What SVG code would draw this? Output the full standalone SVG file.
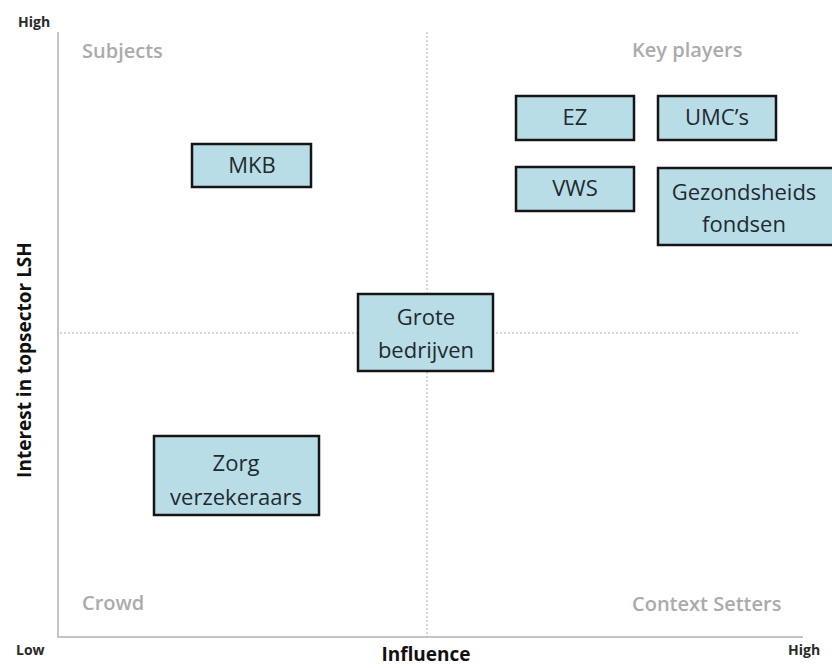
<svg xmlns="http://www.w3.org/2000/svg" width="832" height="668" viewBox="0 0 832 668">
<style>
.box{fill:#b9dde7;stroke:#151515;stroke-width:2.5}
.bt{font-family:"Open Sans","Liberation Sans",sans-serif;font-size:22px;fill:#1e2a30;text-anchor:middle}
.q{font-family:"Open Sans","Liberation Sans",sans-serif;font-size:20px;fill:#ababab;font-weight:600}
.ax{font-family:"Open Sans","Liberation Sans",sans-serif;font-size:14px;fill:#2a2a2a;font-weight:700}
.lbl{font-family:"Open Sans","Liberation Sans",sans-serif;font-size:19px;fill:#111;font-weight:700}
</style>
<rect width="832" height="668" fill="#fff"/>
<g id="axes">
<line x1="58" y1="32" x2="58" y2="638" stroke="#c4c4c4" stroke-width="2"/>
<line x1="57" y1="637" x2="803" y2="637" stroke="#c4c4c4" stroke-width="2"/>
<line x1="427" y1="32" x2="427" y2="637" stroke="#b0b0b0" stroke-width="1" stroke-dasharray="2,2"/>
<line x1="60" y1="333" x2="800" y2="333" stroke="#b0b0b0" stroke-width="1" stroke-dasharray="2,2"/>
</g>
<g id="labels">
<text class="ax" x="18" y="27">High</text>
<text class="ax" x="16" y="655">Low</text>
<text class="ax" x="788" y="655">High</text>
<text class="lbl" x="426" y="661" text-anchor="middle">Influence</text>
<text class="lbl" font-size="22" transform="translate(31,360) rotate(-90)" text-anchor="middle">Interest in topsector LSH</text>
<text class="q" x="82" y="58">Subjects</text>
<text class="q" x="632" y="57">Key players</text>
<text class="q" x="82" y="610">Crowd</text>
<text class="q" x="632" y="611">Context Setters</text>
</g>
<g id="mkb"><rect class="box" x="192" y="144" width="119" height="43"/><text class="bt" x="252" y="173">MKB</text></g>
<g id="grote"><rect class="box" x="358" y="294" width="135" height="77"/><text class="bt" x="426" y="325">Grote</text><text class="bt" x="426" y="358">bedrijven</text></g>
<g id="zorg"><rect class="box" x="154" y="436" width="165" height="79"/><text class="bt" x="236" y="471">Zorg</text><text class="bt" x="236" y="505">verzekeraars</text></g>
<g id="ez"><rect class="box" x="516" y="96" width="118" height="44"/><text class="bt" x="575" y="125">EZ</text></g>
<g id="umc"><rect class="box" x="658" y="96" width="118" height="44"/><text class="bt" x="717" y="125">UMC’s</text></g>
<g id="vws"><rect class="box" x="516" y="167" width="118" height="44"/><text class="bt" x="575" y="196">VWS</text></g>
<g id="gez"><rect class="box" x="658" y="168" width="176" height="77"/><text class="bt" x="744" y="200">Gezondsheids</text><text class="bt" x="744" y="232">fondsen</text></g>
</svg>
